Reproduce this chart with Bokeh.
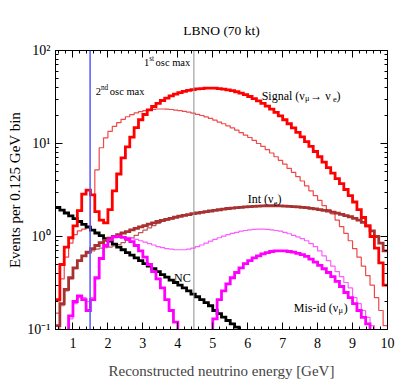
import numpy as np
from bokeh.plotting import figure
from bokeh.models import LinearAxis, LogAxis, FixedTicker, Span, Title
from bokeh.core.properties import value
from bokeh.embed import file_html
from bokeh.resources import INLINE

# ---------------- data (events per 0.125 GeV bin, bins from 0.5 GeV) ----------------
E_MIN, BIN_W = 0.5, 0.125

signal_thick = [0.21, 0.5, 0.77, 0.97, 1.3, 1.9, 2.85, 3.15, 2.8, 1.85, 1.5, 1.4,
                1.95, 3.1, 4.7, 7.0, 9.2, 11.7, 14.8, 18.0, 20.5, 23.0, 25.0, 27.0,
                29.0, 30.8, 32.5, 34.0, 35.3, 36.4, 37.3, 38.0, 38.6, 39.0, 39.3, 39.4,
                39.3, 39.0, 38.5, 37.8, 37.0, 36.0, 34.8, 33.5, 32.0, 30.4, 28.7, 27.0,
                25.2, 23.4, 21.6, 19.8, 18.0, 16.3, 14.7, 13.2, 11.8, 10.5, 9.3, 8.2,
                7.2, 6.3, 5.5, 4.8, 4.2, 3.7, 3.2, 2.75, 2.35, 1.95, 1.6, 1.3, 1.0, 0.75, 0.52, 0.3]

signal_thin = [0.15, 0.35, 0.6, 0.85, 1.05, 1.15, 1.2, 1.3, 2.8, 5.2, 9.0, 11.5,
               13.5, 15.3, 16.8, 18.2, 19.4, 20.4, 21.3, 22.0, 22.6, 23.0, 23.3, 23.5,
               23.5, 23.4, 23.2, 22.9, 22.6, 22.2, 21.7, 21.2, 20.6, 20.0, 19.3, 18.6,
               17.8, 17.0, 16.3, 15.5, 14.7, 13.9, 13.1, 12.3, 11.6, 10.8, 10.0, 9.3,
               8.6, 7.9, 7.2, 6.6, 6.0, 5.4, 4.9, 4.4, 3.95, 3.5, 3.1, 2.75,
               2.45, 2.15, 1.95, 1.75, 1.5, 1.28, 1.08, 0.9, 0.74, 0.6, 0.48, 0.38, 0.3, 0.22, 0.16, 0.11]

int_thick = [0.11, 0.19, 0.27, 0.36, 0.46, 0.55, 0.62, 0.68, 0.74, 0.8, 0.86, 0.91,
             0.96, 1.0, 1.05, 1.09, 1.13, 1.18, 1.22, 1.27, 1.31, 1.36, 1.4, 1.45,
             1.49, 1.53, 1.57, 1.61, 1.65, 1.69, 1.72, 1.76, 1.79, 1.82, 1.85, 1.88,
             1.91, 1.94, 1.97, 2.0, 2.02, 2.04, 2.06, 2.08, 2.1, 2.11, 2.12, 2.13,
             2.14, 2.14, 2.14, 2.13, 2.12, 2.11, 2.1, 2.08, 2.06, 2.04, 2.01, 1.98,
             1.95, 1.91, 1.87, 1.83, 1.78, 1.73, 1.68, 1.63, 1.57, 1.5, 1.42, 1.3, 1.15, 1.0, 0.85, 0.7]

int_thin = [0.1, 0.18, 0.26, 0.35, 0.45, 0.54, 0.61, 0.66, 0.7, 0.73, 0.75, 0.76,
            0.77, 0.79, 0.82, 0.86, 0.91, 0.97, 1.03, 1.1, 1.17, 1.24, 1.31, 1.38,
            1.45, 1.5, 1.55, 1.6, 1.64, 1.68, 1.72, 1.76, 1.79, 1.82, 1.85, 1.88,
            1.91, 1.94, 1.97, 2.0, 2.02, 2.04, 2.06, 2.08, 2.1, 2.11, 2.12, 2.13,
            2.14, 2.14, 2.14, 2.13, 2.12, 2.11, 2.1, 2.08, 2.06, 2.04, 2.01, 1.98,
            1.95, 1.91, 1.87, 1.83, 1.78, 1.73, 1.68, 1.63, 1.57, 1.5, 1.42, 1.3, 1.15, 1.0, 0.85, 0.7]

misid_thick = [0.05, 0.05, 0.05, 0.14, 0.2, 0.23, 0.21, 0.16, 0.21, 0.36, 0.58, 0.8,
               0.92, 0.99, 1.0, 0.98, 0.94, 0.88, 0.8, 0.7, 0.6, 0.5, 0.42, 0.35,
               0.28, 0.21, 0.16, 0.12, 0.05, 0.05, 0.05, 0.05, 0.05, 0.05, 0.05, 0.05,
               0.13, 0.21, 0.26, 0.31, 0.36, 0.41, 0.46, 0.51, 0.55, 0.59, 0.62, 0.65,
               0.67, 0.69, 0.7, 0.7, 0.7, 0.69, 0.68, 0.66, 0.64, 0.61, 0.57, 0.53,
               0.49, 0.45, 0.41, 0.37, 0.33, 0.29, 0.25, 0.22, 0.19, 0.16, 0.135, 0.115, 0.05, 0.05, 0.05, 0.05]

misid_thin = [0.05, 0.05, 0.06, 0.13, 0.19, 0.22, 0.22, 0.2, 0.22, 0.35, 0.58, 0.78,
              0.92, 0.98, 1.0, 1.0, 0.98, 0.96, 0.93, 0.9, 0.87, 0.84, 0.81, 0.78,
              0.76, 0.74, 0.73, 0.72, 0.72, 0.72, 0.73, 0.75, 0.78, 0.81, 0.85, 0.89,
              0.93, 0.97, 1.01, 1.05, 1.08, 1.11, 1.14, 1.16, 1.18, 1.19, 1.2, 1.2,
              1.19, 1.18, 1.16, 1.14, 1.11, 1.07, 1.03, 0.99, 0.95, 0.9, 0.84, 0.78,
              0.7, 0.62, 0.55, 0.48, 0.42, 0.37, 0.32, 0.28, 0.22, 0.19, 0.16, 0.135, 0.11, 0.05, 0.05, 0.05]

nc = [2.05, 1.92, 1.79, 1.67, 1.56, 1.45, 1.35, 1.26, 1.17, 1.09, 1.02, 0.95,
      0.89, 0.83, 0.77, 0.72, 0.67, 0.63, 0.59, 0.55, 0.51, 0.48, 0.45, 0.42,
      0.39, 0.365, 0.34, 0.32, 0.3, 0.28, 0.26, 0.24, 0.225, 0.21, 0.195, 0.18,
      0.16, 0.148, 0.136, 0.125, 0.115, 0.106, 0.097, 0.09]

osc_max_1st = 4.46   # GeV
osc_max_2nd = 1.49   # GeV

x_ticks = [1, 2, 3, 4, 5, 6, 7, 8, 9, 10]
y_ticks = [0.1, 1, 10, 100]
y_tick_labels = {0.1: "10\u207b\u00b9", 1: "10\u2070", 10: "10\u00b9", 100: "10\u00b2"}

FONT = "Liberation Serif"

# ---------------- figure ----------------
p = figure(x_range=(0.5, 10), y_range=(0.1, 100), y_axis_type="log",
           frame_width=332, frame_height=279,
           min_border_left=55, min_border_right=20, min_border_top=50, min_border_bottom=53,
           output_backend="svg", toolbar_location=None)
p.grid.visible = False
p.outline_line_color = "black"
p.outline_line_width = 1
p.background_fill_color = "white"
p.border_fill_color = "white"

p.title.text = "LBNO (70 kt)"
p.title.align = "center"
p.title.text_font = FONT
p.title.text_font_size = "13.5px"
p.title.text_font_style = "normal"
p.title.text_color = "black"
p.title.standoff = 26

x_minor = [round(v, 1) for v in np.arange(0.6, 10.0, 0.2) if abs(v - round(v)) > 1e-6]
y_minor = [m * 10.0 ** k for k in (-1, 0, 1) for m in range(2, 10)]
xt = FixedTicker(ticks=x_ticks, minor_ticks=x_minor)
yt = FixedTicker(ticks=y_ticks, minor_ticks=y_minor)


def style_axis(ax):
    ax.major_tick_in = 7
    ax.major_tick_out = 0
    ax.minor_tick_in = 3
    ax.minor_tick_out = 0
    ax.axis_line_color = "black"
    ax.major_tick_line_color = "black"
    ax.minor_tick_line_color = "black"
    ax.major_label_text_font = FONT
    ax.major_label_text_font_size = "14px"
    ax.major_label_text_color = "black"


p.xaxis.ticker = xt
p.yaxis.ticker = yt
style_axis(p.xaxis[0])
style_axis(p.yaxis[0])
p.xaxis.major_label_standoff = 8
p.yaxis.major_label_standoff = 5
p.yaxis.major_label_overrides = y_tick_labels
p.xaxis.axis_label = "Reconstructed neutrino energy [GeV]"
p.xaxis.axis_label_text_font = FONT
p.xaxis.axis_label_text_font_size = "15px"
p.xaxis.axis_label_text_font_style = "normal"
p.xaxis.axis_label_standoff = 12

top = LinearAxis(ticker=xt, major_label_overrides={t: "" for t in x_ticks})
style_axis(top)
top.major_label_standoff = 0
p.add_layout(top, "above")
right = LogAxis(ticker=yt, major_label_overrides={t: "" for t in y_ticks})
style_axis(right)
right.major_label_standoff = 0
p.add_layout(right, "right")

ytitle = Title(text="Events per 0.125 GeV bin", align="center", offset=-16,
               text_font=FONT, text_font_size="15px", text_font_style="normal",
               text_color="black", standoff=3)
p.add_layout(ytitle, "left")


def hist_xy(vals):
    xs, ys = [], []
    for i, v in enumerate(vals):
        lo = E_MIN + BIN_W * i
        xs += [lo, lo + BIN_W]
        ys += [v, v]
    return xs, ys


p.add_layout(Span(location=osc_max_1st, dimension="height", line_color="#8c8c8c", line_width=1))

thin_series = [(signal_thin, "#f04848"), (int_thin, "#bc5a58"), (misid_thin, "#ff5cff")]
for vals, col in thin_series:
    xs, ys = hist_xy(vals)
    p.line(xs, ys, line_color=col, line_width=1.2)

thick_series = [(nc, "black"), (int_thick, "#a83232"), (misid_thick, "#ff00ff"), (signal_thick, "#ff0000")]
for vals, col in thick_series:
    xs, ys = hist_xy(vals)
    p.line(xs, ys, line_color=col, line_width=2.8, line_join="miter")

p.add_layout(Span(location=osc_max_2nd, dimension="height", line_color="#5a5aff", line_width=1.5))

# ---------------- rich text annotations ----------------
W = {' ': 250, '(': 333, ')': 333, 'S': 556, 'i': 278, 'g': 500, 'n': 500, 'a': 444,
     'l': 278, 'I': 333, 't': 278, 'N': 722, 'C': 667, 'M': 889, 's': 389, '-': 333,
     'd': 500, 'o': 500, 'c': 444, 'm': 778, 'x': 500, '\u03bd': 480, '\u03bc': 620,
     'e': 444, '\u2192': 900, '1': 500, '2': 500, 'r': 333}


def twidth(s, size):
    return sum(W.get(c, 500) for c in s) / 1000.0 * size


def rich(x, y, parts, size=12.0):
    off = 0.0
    for txt, kind in parts:
        fs = size if kind == "n" else size * 0.7
        dy = {"n": 0.0, "sub": size * 0.28, "sup": -size * 0.42}[kind]
        p.text(x=[x], y=[y], text=[txt], x_offset=off, y_offset=dy,
               text_font=value(FONT), text_font_size=f"{fs:.1f}px",
               text_align="left", text_baseline="alphabetic", text_color="black")
        off += twidth(txt, fs) + (1.5 if kind == "sup" else 0.0)


rich(3.03, 74.3, [("1", "n"), ("st", "sup"), (" osc max", "n")], size=10.5)
rich(1.65, 36.2, [("2", "n"), ("nd", "sup"), (" osc max", "n")], size=10.5)
rich(6.40, 32.8, [("Signal (\u03bd", "n"), ("\u03bc", "sub"), (" \u2192 \u03bd", "n"), ("e", "sub"), (")", "n")])
rich(6.00, 2.50, [("Int (\u03bd", "n"), ("e", "sub"), (")", "n")])
rich(3.89, 0.362, [("NC", "n")])
rich(7.32, 0.172, [("Mis-id (\u03bd", "n"), ("\u03bc", "sub"), (")", "n")])

open("out.html", "w").write(file_html(p, INLINE))
